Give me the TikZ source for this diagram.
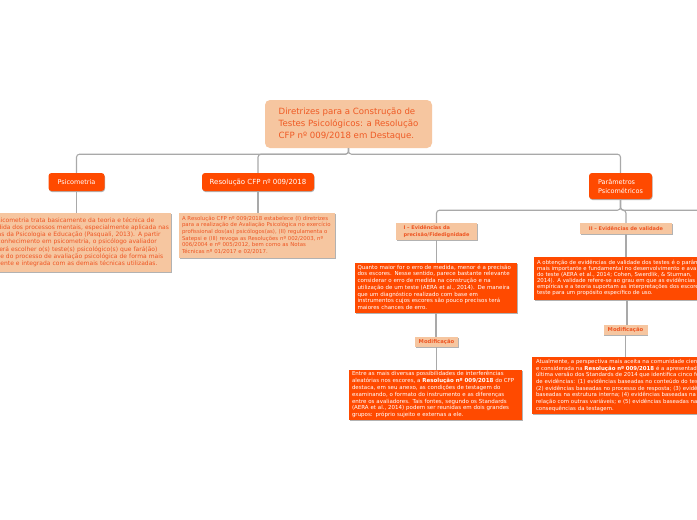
\documentclass[tikz,border=0pt]{standalone}
\usepackage{fontspec}
\setmainfont{DejaVu Sans}
\usetikzlibrary{shadows}
\definecolor{redbox}{HTML}{FF4A00}
\definecolor{peach}{HTML}{F6C6A0}
\definecolor{peachtxt}{HTML}{EE5522}
\definecolor{titletxt}{HTML}{EF5A24}
\definecolor{linegray}{HTML}{A9A9A9}
\newcommand{\txtlines}[1]{\begin{tabular}{@{}l@{}}#1\end{tabular}}
\begin{document}
\begin{tikzpicture}[x=1pt,y=-1pt,
  conn/.style={draw=linegray, line width=1.1pt, rounded corners=3pt},
  shad/.style={drop shadow={shadow xshift=0.5pt,shadow yshift=-1pt,opacity=0.3,fill=black}},
  topic/.style={fill=redbox, text=white, rounded corners=3pt, inner sep=0pt, shad},
  hdr/.style={fill=peach, text=peachtxt, inner sep=0pt, align=left, font=\bfseries\fontsize{5}{7.5}\selectfont, shad},
  redtext/.style={fill=redbox, text=white, inner ysep=0pt, align=left, shad},
  peachtext/.style={fill=peach, text=peachtxt, inner ysep=0pt, align=left, shad},
]
\useasboundingbox (0,0) rectangle (697,520);
\clip (0,0) rectangle (697,520);
\fill[white] (0,0) rectangle (697,520);

% title
\node[fill=peach, text=titletxt, rounded corners=5pt, minimum width=167pt, minimum height=48pt,
      inner sep=0pt, align=left, font=\fontsize{8.6}{12}\selectfont] (title) at (348.5,124)
  {Diretrizes para a Construção de\\Testes Psicológicos: a Resolução\\CFP nº 009/2018 em Destaque.};

% main topics
\node[topic, minimum width=56pt, minimum height=18pt, font=\fontsize{6.5}{8}\selectfont] (psi) at (76.5,182) {Psicometria};
\node[topic, minimum width=112pt, minimum height=18pt, font=\fontsize{7}{8}\selectfont] (res) at (258,182) {Resolução CFP nº 009/2018};
\node[topic, minimum width=63pt, minimum height=26pt, align=left, font=\fontsize{6.5}{9}\selectfont] (par) at (620.5,186) {Parâmetros\\Psicométricos};

% text boxes under topics
\node[peachtext, inner xsep=4pt, text width=179pt, minimum height=59pt, font=\fontsize{6}{7.2}\selectfont] (psibox) at (77.5,242.5)
  {\txtlines{A Psicometria trata basicamente da teoria e técnica de\\
  medida dos processos mentais, especialmente aplicada nas\\
  áreas da Psicologia e Educação (Pasquali, 2013). A partir\\
  do conhecimento em psicometria, o psicólogo avaliador\\
  poderá escolher o(s) teste(s) psicológico(s) que fará(ão)\\
  parte do processo de avaliação psicológica de forma mais\\
  eficiente e integrada com as demais técnicas utilizadas.}};

\node[peachtext, inner xsep=3pt, text width=150pt, minimum height=45pt, font=\fontsize{5.4}{6.6}\selectfont] (resbox) at (257,235.5)
  {\txtlines{A Resolução CFP nº 009/2018 estabelece (I) diretrizes\\
  para a realização de Avaliação Psicológica no exercício\\
  profissional dos(as) psicólogos(as), (II) regulamenta o\\
  Satepsi e (III) revoga as Resoluções nº 002/2003, nº\\
  006/2004 e nº 005/2012, bem como as Notas\\
  Técnicas nº 01/2017 e 02/2017.}};

% Parametros children
\node[hdr, minimum width=81pt, minimum height=17pt] (ev1) at (436.5,231.5) {I – Evidências da\\precisão/Fidedignidade};
\node[hdr, minimum width=92pt, minimum height=11pt] (ev2) at (626,228.5) {II – Evidências de validade};
\coordinate (ev3) at (760,223);

\node[redtext, inner xsep=2.5pt, text width=157pt, minimum height=50pt, font=\fontsize{5.5}{6.7}\selectfont] (q1) at (436,288)
  {\txtlines{Quanto maior for o erro de medida, menor é a precisão\\
  dos escores. Nesse sentido, parece bastante relevante\\
  considerar o erro de medida na construção e na\\
  utilização de um teste (AERA et al., 2014). De maneira\\
  que um diagnóstico realizado com base em\\
  instrumentos cujos escores são pouco precisos terá\\
  maiores chances de erro.}};

\node[hdr, minimum width=43pt, minimum height=10pt, font=\bfseries\fontsize{5.3}{7}\selectfont] (mod1) at (436.5,342) {Modificação};

\node[redtext, inner xsep=3pt, text width=167pt, minimum height=50pt, font=\fontsize{5.5}{6.8}\selectfont] (e1) at (435.5,395)
  {\txtlines{Entre as mais diversas possibilidades de interferências\\
  aleatórias nos escores, a {\bfseries Resolução nº 009/2018} do CFP\\
  destaca, em seu anexo, as condições de testagem do\\
  examinando, o formato do instrumento e as diferenças\\
  entre os avaliadores. Tais fontes, segundo os Standards\\
  (AERA et al., 2014) podem ser reunidas em dois grandes\\
  grupos: próprio sujeito e externas a ele.}};

\node[redtext, inner xsep=3pt, text width=180pt, minimum height=43pt, font=\fontsize{5.4}{5.9}\selectfont] (a2) at (627,278.5)
  {\txtlines{A obtenção de evidências de validade dos testes é o parâmetro\\
  mais importante e fundamental no desenvolvimento e avaliação\\
  do teste (AERA et al., 2014; Cohen, Swerdlik, \& Sturman,\\
  2014). A validade refere-se ao grau em que as evidências\\
  empíricas e a teoria suportam as interpretações dos escores do\\
  teste para um propósito específico de uso.}};

\node[hdr, minimum width=44pt, minimum height=10pt, font=\bfseries\fontsize{5.3}{7}\selectfont] (mod2) at (625.5,330) {Modificação};

\node[redtext, inner xsep=4pt, text width=182pt, minimum height=57pt, font=\fontsize{5.4}{6.7}\selectfont] (at2) at (627,385.5)
  {\txtlines{Atualmente, a perspectiva mais aceita na comunidade científica\\
  e considerada na {\bfseries Resolução nº 009/2018} é a apresentada na\\
  última versão dos Standards de 2014 que identifica cinco fontes\\
  de evidências: (1) evidências baseadas no conteúdo do teste;\\
  (2) evidências baseadas no processo de resposta; (3) evidências\\
  baseadas na estrutura interna; (4) evidências baseadas na\\
  relação com outras variáveis; e (5) evidências baseadas nas\\
  consequências da testagem.}};

% connectors
\draw[conn] (title.south) -- ++(0,6) -| (psi.north);
\draw[conn] (title.south) -- ++(0,6) -| (res.north);
\draw[conn] (title.south) -- ++(0,6) -| (par.north);
\draw[conn] (psi.south) -- (psi.south |- psibox.north);
\draw[conn] (res.south) -- (res.south |- resbox.north);
\draw[conn] (par.south) -- ++(0,11) -| (ev1.north);
\draw[conn] (par.south) -- ++(0,11) -| (ev2.north);
\draw[conn] (par.south) -- ++(0,11) -| (ev3);
\draw[conn] (ev1.south) -- (ev1.south |- q1.north);
\draw[conn] (q1.south) -- (q1.south |- mod1.north);
\draw[conn] (mod1.south) -- (mod1.south |- e1.north);
\draw[conn] (ev2.south) -- (ev2.south |- a2.north);
\draw[conn] (a2.south) -- (a2.south |- mod2.north);
\draw[conn] (mod2.south) -- (mod2.south |- at2.north);
\end{tikzpicture}
\end{document}
